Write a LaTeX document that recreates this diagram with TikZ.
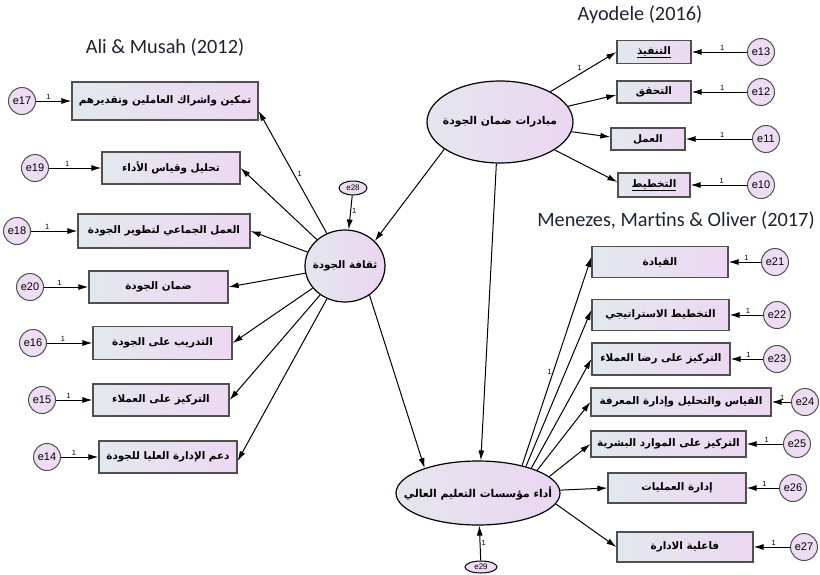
\documentclass[tikz,border=0pt]{standalone}
\usepackage{fontspec}
\setmainfont{Liberation Sans}
\newfontfamily\arfont[Script=Arabic]{DejaVu Sans}
\newfontfamily\titlefont{Carlito}
\TeXXeTstate=1
\usetikzlibrary{arrows.meta,shapes.geometric,calc}
\definecolor{boxL}{HTML}{E2E8EE}
\definecolor{boxR}{HTML}{EDD8F2}
\definecolor{latL}{HTML}{E4E6EE}
\definecolor{latR}{HTML}{EBD6F0}
\definecolor{circ}{HTML}{EEDDF2}
\definecolor{bord}{HTML}{505050}
\definecolor{titleC}{HTML}{1C2433}
\newcommand{\artxt}[1]{\makebox[0pt]{\arfont\bfseries\beginR #1\endR}}
\newcommand{\artxtu}[1]{\makebox[0pt]{\underline{\arfont\bfseries\beginR #1\endR}}}
\begin{document}
\begin{tikzpicture}[x=1pt,y=-1pt,
 box/.style={rectangle, draw=bord, line width=1.3pt, left color=boxL, right color=boxR, inner sep=0pt, font=\fontsize{10.4}{12}\selectfont},
 err/.style={circle, draw=bord, line width=1pt, fill=circ, minimum size=27pt, inner sep=0pt, font=\fontsize{11}{12}\selectfont},
 lat/.style={ellipse, draw=black, line width=1.2pt, left color=latL, right color=latR, inner sep=0pt, font=\fontsize{10.8}{13}\selectfont},
 small/.style={ellipse, draw=black, line width=1pt, fill=circ, inner sep=0pt, font=\fontsize{8}{9}\selectfont},
 arr/.style={-{Latex[length=10pt,width=6pt]}, line width=1pt},
 one/.style={font=\fontsize{7.5}{8}\selectfont, inner sep=1pt},
 ttl/.style={font=\titlefont\fontsize{20.3}{22}\selectfont, text=titleC}]
\useasboundingbox (0,0) rectangle (820,574);

% titles
\node[ttl] (t1) at (165,47) {Ali \& Musah (2012)};
\node[ttl] (t2) at (640,15) {Ayodele (2016)};
\node[ttl] (t3) at (676,220) {Menezes, Martins \& Oliver (2017)};

% latent variables
\node[lat, minimum width=80pt, minimum height=72pt, font=\fontsize{10.3}{12}\selectfont] (C) at (345,266) {\artxt{ثقافة الجودة}};
\node[lat, minimum width=146pt, minimum height=82pt] (I) at (500,122) {\artxt{مبادرات ضمان الجودة}};
\node[lat, minimum width=164pt, minimum height=64pt] (P) at (478,493) {\artxt{أداء مؤسسات التعليم العالي}};
\node[small, minimum width=28pt, minimum height=14pt] (e28) at (353,188) {e28};
\node[small, minimum width=32pt, minimum height=12pt] (e29) at (481,567) {e29};

% left boxes
\node[box, minimum width=186pt, minimum height=38pt] (b17) at (165,101) {\artxt{تمكين واشراك العاملين وتقديرهم}};
\node[box, minimum width=138pt, minimum height=32pt] (b19) at (171,168) {\artxt{تحليل وقياس الأداء}};
\node[box, minimum width=172pt, minimum height=34pt] (b18) at (164,231) {\artxt{العمل الجماعي لتطوير الجودة}};
\node[box, minimum width=139pt, minimum height=32pt] (b20) at (158.5,287) {\artxt{ضمان الجودة}};
\node[box, minimum width=139pt, minimum height=33pt] (b16) at (162.5,343) {\artxt{التدريب على الجودة}};
\node[box, minimum width=136pt, minimum height=32pt] (b15) at (161,400) {\artxt{التركيز على العملاء}};
\node[box, minimum width=138pt, minimum height=32pt] (b14) at (168,457) {\artxt{دعم الإدارة العليا للجودة}};

\node[err] (e17) at (22,101) {e17};
\node[err] (e19) at (35,168) {e19};
\node[err] (e18) at (17,231) {e18};
\node[err] (e20) at (30,287) {e20};
\node[err] (e16) at (33,343) {e16};
\node[err] (e15) at (42,400) {e15};
\node[err] (e14) at (47,457) {e14};

% top right boxes
\node[box, minimum width=74pt, minimum height=23pt] (b13) at (654,52) {\artxtu{التنفيذ}};
\node[box, minimum width=74pt, minimum height=22pt] (b12) at (654,92) {\artxt{التحقق}};
\node[box, minimum width=74pt, minimum height=22pt] (b11) at (648,139) {\artxt{العمل}};
\node[box, minimum width=72pt, minimum height=24pt] (b10) at (654,185) {\artxtu{التخطيط}};

\node[err] (e13) at (761,52) {e13};
\node[err] (e12) at (761,92) {e12};
\node[err] (e11) at (766,139) {e11};
\node[err] (e10) at (761,185) {e10};

% bottom right boxes
\node[box, minimum width=136pt, minimum height=31pt] (b21) at (660,262) {\artxt{القيادة}};
\node[box, minimum width=137pt, minimum height=31pt] (b22) at (660.5,315) {\artxt{التخطيط الاستراتيجي}};
\node[box, minimum width=138pt, minimum height=32pt] (b23) at (661,359) {\artxt{التركيز على رضا العملاء}};
\node[box, minimum width=180pt, minimum height=28pt] (b24) at (681,402) {\artxt{القياس والتحليل وإدارة المعرفة}};
\node[box, minimum width=155pt, minimum height=26pt] (b25) at (668.5,444) {\artxt{التركيز على الموارد البشرية}};
\node[box, minimum width=138pt, minimum height=30pt] (b26) at (677,488) {\artxt{إدارة العمليات}};
\node[box, minimum width=136pt, minimum height=30pt] (b27) at (685,547) {\artxt{فاعلية الادارة}};

\node[err] (e21) at (775,262) {e21};
\node[err] (e22) at (777,315) {e22};
\node[err] (e23) at (777,359) {e23};
\node[err] (e24) at (805,402) {e24};
\node[err] (e25) at (797,444) {e25};
\node[err] (e26) at (793,488) {e26};
\node[err] (e27) at (804,547) {e27};

% structural arrows
\draw[arr] (I.206) -- (C.40);
\draw[arr] (I.-95) -- (P.85);
\draw[arr] (C.-50) -- (P.155);
\draw[arr] (e28) -- (C) node[one, pos=0.45, right] {1};
\draw[arr] (e29) -- (P) node[one, pos=0.5, right] {1};

% culture -> left boxes
\draw[arr] (C) -- ([yshift=-10pt]b17.east) node[one, pos=0.45, above right] {1};
\draw[arr] (C) -- (b19.east);
\draw[arr] (C) -- (b18.east);
\draw[arr] (C) -- (b20.east);
\draw[arr] (C) -- (b16.east);
\draw[arr] (C) -- (b15.east);
\draw[arr] (C) -- ([yshift=-4pt]b14.east);

% initiatives -> top right boxes
\draw[arr] (I) -- (b13.west) node[one, pos=0.5, above left] {1};
\draw[arr] (I) -- ([yshift=-3pt]b12.west);
\draw[arr] (I) -- ([yshift=2pt]b11.west);
\draw[arr] (I) -- ([yshift=3pt]b10.west);

% performance -> right boxes
\draw[arr] (P.32) -- ([yshift=5pt]b21.west) node[one, pos=0.45, left] {1};
\draw[arr] (P.29) -- ([yshift=5pt]b22.west);
\draw[arr] (P.25) -- (b23.west);
\draw[arr] (P.21) -- (b24.west);
\draw[arr] (P.13) -- (b25.west);
\draw[arr] (P.2) -- (b26.west);
\draw[arr] (P.-8) -- (b27.west);

% error arrows
\foreach \e/\b in {e17/b17,e19/b19,e18/b18,e20/b20,e16/b16,e15/b15,e14/b14}{
  \draw[arr] (\e) -- (\b) node[one, pos=0.35, above] {1};
}
\foreach \e/\b in {e13/b13,e12/b12,e11/b11,e10/b10,e21/b21,e22/b22,e23/b23,e24/b24,e25/b25,e26/b26,e27/b27}{
  \draw[arr] (\e) -- (\b) node[one, pos=0.45, above] {1};
}
\end{tikzpicture}
\end{document}
